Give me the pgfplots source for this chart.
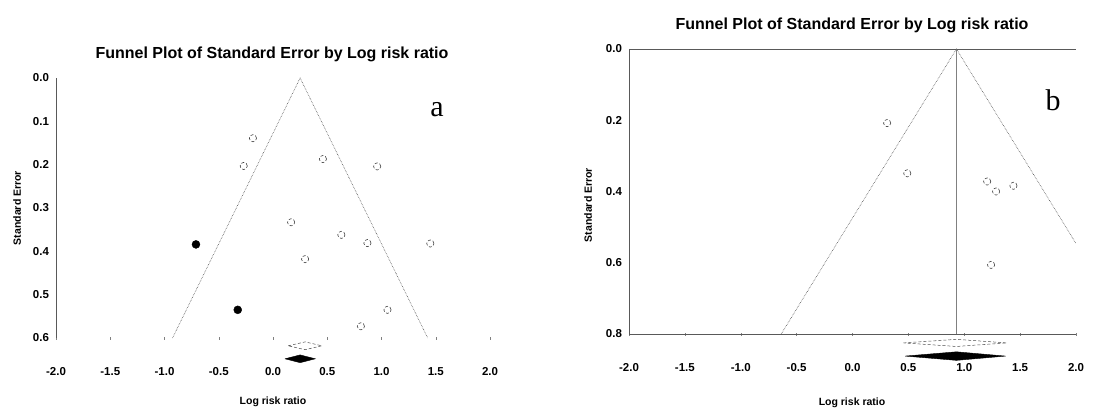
\documentclass[border=0pt]{standalone}
\usepackage{fontspec}
\setmainfont{Liberation Sans}
\newfontfamily\seriffont{Liberation Serif}
\usepackage{pgfplots}
\pgfplotsset{compat=1.18}
\begin{document}
\begin{tikzpicture}[x=1pt,y=1pt]
\path (0,0) rectangle (1113,410);
\pgfplotsset{
  funnelstyle/.style={
    scale only axis, clip=false, y dir=reverse,
    xmin=-2, xmax=2,
    axis line style={draw=none},
    tick label style={font=\bfseries\fontsize{11.5}{13}\selectfont},
    /pgf/number format/.cd, fixed, fixed zerofill, precision=1, assume math mode=true,
    /pgfplots/.cd,
    xtick={-2,-1.5,...,2},
    xticklabel style={yshift=-24pt, text height=8.5pt, text depth=0pt, anchor=north},
    yticklabel style={xshift=-2pt},
    ytick style={draw=none},
    xtick style={draw=gray, thin},
    major tick length=3pt,
    tick align=center,
  },
  opencirc/.style={only marks, mark=o, mark size=3.6pt, mark options={draw=gray!50!black, densely dashed, line width=0.6pt}},
  fillcirc/.style={only marks, mark=*, mark size=4pt, mark options={fill=black, draw=black}},
}
% ---------- panel a ----------
\begin{axis}[funnelstyle, at={(56pt,72pt)}, anchor=south west, width=434pt, height=260pt,
  ymin=0, ymax=0.6, ytick={0,0.1,...,0.6}, xtick pos=left]
\draw[gray!70!black, line width=0.6pt] (axis cs:-2,0) -- (axis cs:-2,0.6);
\addplot[gray!60!black, densely dotted, line width=0.6pt] coordinates {(-0.926,0.6) (0.25,0) (1.426,0.6)};
\addplot[opencirc] coordinates {
(-0.185,0.139) (-0.27,0.203) (0.46,0.187) (0.96,0.204) (0.167,0.333) (0.63,0.362)
(0.87,0.381) (1.45,0.382) (0.296,0.418) (1.055,0.535) (0.81,0.573)};
\addplot[fillcirc] coordinates {(-0.71,0.384) (-0.325,0.535)};
\addplot[draw=gray!60!black, densely dashed, line width=0.5pt] coordinates {(0.14,0.618) (0.296,0.609) (0.45,0.618) (0.296,0.627) (0.14,0.618)};
\addplot[draw=black, fill=black] coordinates {(0.11,0.648) (0.25,0.639) (0.39,0.648) (0.25,0.657) (0.11,0.648)};
\end{axis}
\node[font=\bfseries\fontsize{16}{18}\selectfont] at (272,356) {Funnel Plot of Standard Error by Log risk ratio};
\node[font=\bfseries\fontsize{10.5}{12}\selectfont] at (273,8) {Log risk ratio};
\node[font=\bfseries\fontsize{10.5}{12}\selectfont, rotate=90] at (17,202) {Standard Error};
\node[font=\seriffont\fontsize{30}{32}\selectfont] at (437,300) {a};
% ---------- panel b ----------
\begin{axis}[funnelstyle, at={(629pt,76pt)}, anchor=south west, width=447pt, height=285pt,
  ymin=0, ymax=0.8, ytick={0,0.2,...,0.8}, xtick pos=left]
\draw[gray!70!black, line width=0.8pt] (axis cs:-2,0) -- (axis cs:-2,0.8) -- (axis cs:2,0.8);
\draw[gray!70!black, line width=0.8pt] (axis cs:-2,0) -- (axis cs:2,0);
\draw[gray, line width=0.6pt] (axis cs:0.93,0) -- (axis cs:0.93,0.8);
\addplot[gray!60!black, densely dotted, line width=0.6pt] coordinates {(-0.638,0.8) (0.93,0) (2.0,0.546)};
\addplot[opencirc] coordinates {
(0.31,0.208) (0.49,0.349) (1.205,0.372) (1.285,0.40) (1.44,0.384) (1.24,0.606)};
\addplot[draw=gray!60!black, densely dashed, line width=0.5pt] coordinates {(0.455,0.825) (0.93,0.815) (1.38,0.825) (0.93,0.835) (0.455,0.825)};
\addplot[draw=black, fill=black] coordinates {(0.47,0.862) (0.93,0.85) (1.37,0.862) (0.93,0.874) (0.47,0.862)};
\end{axis}
\node[font=\bfseries\fontsize{16}{18}\selectfont] at (852,385) {Funnel Plot of Standard Error by Log risk ratio};
\node[font=\bfseries\fontsize{10.5}{12}\selectfont] at (852,7) {Log risk ratio};
\node[font=\bfseries\fontsize{10.5}{12}\selectfont, rotate=90] at (588,205) {Standard Error};
\node[font=\seriffont\fontsize{30}{32}\selectfont] at (1053,310) {b};
\end{tikzpicture}
\end{document}
